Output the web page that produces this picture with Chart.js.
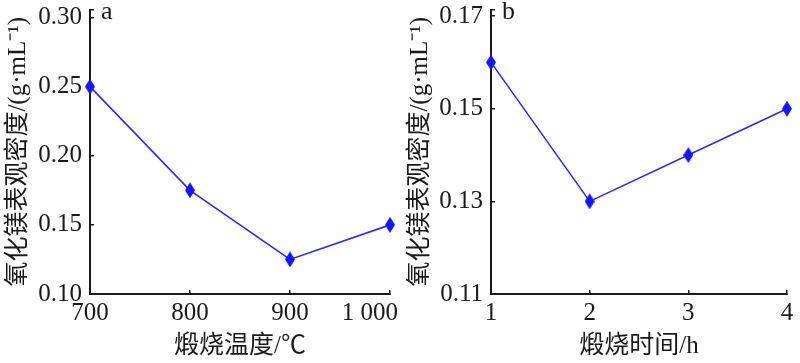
<!DOCTYPE html>
<html>
<head>
<meta charset="utf-8">
<script src="https://cdn.jsdelivr.net/npm/chart.js@4"></script>
<style>
  html, body { margin: 0; padding: 0; background: #fff; }
  #wrap { width: 800px; height: 363px; position: relative; }
  canvas { position: absolute; top: 0; }
</style>
</head>
<body>
<div id="wrap">
  <canvas id="ca" width="400" height="363" style="left:0"></canvas>
  <canvas id="cb" width="400" height="363" style="left:400px"></canvas>
</div>
<script>
// ---- data ----
const tempValues = [700, 800, 900, 1000];
const tempTickLabels = ['700', '800', '900', '1 000'];
const densityByTemp = [0.250, 0.175, 0.125, 0.150];
const yTicksA = [0.10, 0.15, 0.20, 0.25, 0.30];
const yLabelsA = ['0.10', '0.15', '0.20', '0.25', '0.30'];

const timeValues = [1, 2, 3, 4];
const timeTickLabels = ['1', '2', '3', '4'];
const densityByTime = [0.160, 0.130, 0.140, 0.150];
const yTicksB = [0.11, 0.13, 0.15, 0.17];
const yLabelsB = ['0.11', '0.13', '0.15', '0.17'];

const yTitle = '氧化镁表观密度/(g·mL⁻¹)';
const xTitleA = '煅烧温度/℃';
const xTitleB = '煅烧时间/h';

// ---- style ----
const SERIF = "'Liberation Serif', 'Times New Roman', 'Noto Sans CJK SC', serif";
const TITLEFONT = "'Liberation Serif', 'Noto Sans CJK SC', serif";
const AXIS = '#1a1a1a';
const TEXT = '#1a1a1a';
const LINE = '#2a2aff';
const MARK = '#1414ff';
const TICKFONT = '25px ' + SERIF;

function diamond() {
  const c = document.createElement('canvas');
  c.width = 10; c.height = 16;
  const g = c.getContext('2d');
  g.fillStyle = MARK;
  g.beginPath();
  g.moveTo(5, 0); g.lineTo(10, 8); g.lineTo(5, 16); g.lineTo(0, 8); g.closePath();
  g.fill();
  return c;
}
const marker = diamond();

// panel letter + last x label kept inside the canvas (right-aligned to the edge)
function extras(letter, xTicks, xLabels, keepInside) {
  return {
    id: 'extras',
    afterDraw(chart) {
      const ctx = chart.ctx;
      ctx.save();
      ctx.font = '26px ' + SERIF;
      ctx.fillStyle = TEXT;
      ctx.textBaseline = 'alphabetic';
      ctx.fillText(letter, chart.chartArea.left + 11, 19);
      if (keepInside) {
        const xs = chart.scales.x;
        const last = xLabels[xLabels.length - 1];
        ctx.font = TICKFONT;
        ctx.textAlign = 'right';
        ctx.textBaseline = 'top';
        ctx.fillText(last, chart.width - 2, xs.top + 7);
      }
      ctx.restore();
    }
  };
}

function makeChart(id, xs, xTicks, xLabels, ys, yTicks, yLabels, yMax, xTitle, padRight, yWidth, yTitlePad, letter, keepInside) {
  const yMin = yTicks[0];
  const yAll = yTicks.concat([yMax]);
  return new Chart(document.getElementById(id), {
    type: 'line',
    data: {
      datasets: [{
        data: xs.map((x, i) => ({ x: x, y: ys[i] })),
        borderColor: LINE,
        borderWidth: 1.6,
        pointStyle: marker,
        pointRadius: 8,
        pointHoverRadius: 8,
        tension: 0,
        clip: false
      }]
    },
    options: {
      responsive: false,
      animation: false,
      devicePixelRatio: 1,
      plugins: { legend: { display: false }, tooltip: { enabled: false } },
      layout: { padding: { left: 0, right: padRight, top: 4, bottom: 0 } },
      scales: {
        x: {
          type: 'linear',
          min: xTicks[0],
          max: xTicks[xTicks.length - 1],
          afterBuildTicks: s => { s.ticks = xTicks.map(v => ({ value: v })); },
          afterFit: s => { s.height = 69; s.paddingLeft = 0; s.paddingRight = 0; },
          ticks: {
            autoSkip: false,
            maxRotation: 0,
            padding: 8,
            color: TEXT,
            font: { family: SERIF, size: 25 },
            callback: (v) => {
              const i = xTicks.indexOf(v);
              if (i < 0) return '';
              if (keepInside && i === xTicks.length - 1) return '';
              return xLabels[i];
            }
          },
          grid: { drawOnChartArea: false, drawTicks: true, tickLength: -4, color: AXIS, lineWidth: 1.5 },
          border: { display: true, color: AXIS, width: 2 },
          title: {
            display: true, text: xTitle, color: TEXT,
            font: { family: TITLEFONT, size: 25 },
            padding: { top: 0, bottom: 2 }
          }
        },
        y: {
          type: 'linear',
          min: yMin,
          max: yMax,
          afterBuildTicks: s => { s.ticks = yAll.map(v => ({ value: v })); },
          afterFit: s => { s.width = yWidth; s.paddingTop = 0; s.paddingBottom = 0; },
          ticks: {
            autoSkip: false,
            padding: 12,
            color: TEXT,
            font: { family: SERIF, size: 25 },
            callback: (v) => {
              for (let i = 0; i < yTicks.length; i++) if (Math.abs(yTicks[i] - v) < 1e-9) return yLabels[i];
              return '';
            }
          },
          grid: { drawOnChartArea: false, drawTicks: true, tickLength: -4, color: AXIS, lineWidth: 1.5 },
          border: { display: true, color: AXIS, width: 2 },
          title: {
            display: true, text: yTitle, color: TEXT,
            font: { family: TITLEFONT, size: 25 },
            padding: { top: yTitlePad, bottom: 0 }
          }
        }
      }
    },
    plugins: [extras(letter, xTicks, xLabels, keepInside)]
  });
}

makeChart('ca', tempValues, tempValues, tempTickLabels, densityByTemp, yTicksA, yLabelsA, 0.3057, xTitleA, 10, 90, 3, 'a', true);
makeChart('cb', timeValues, timeValues, timeTickLabels, densityByTime, yTicksB, yLabelsB, 0.1714, xTitleB, 13, 91, 5, 'b', false);
</script>
</body>
</html>
